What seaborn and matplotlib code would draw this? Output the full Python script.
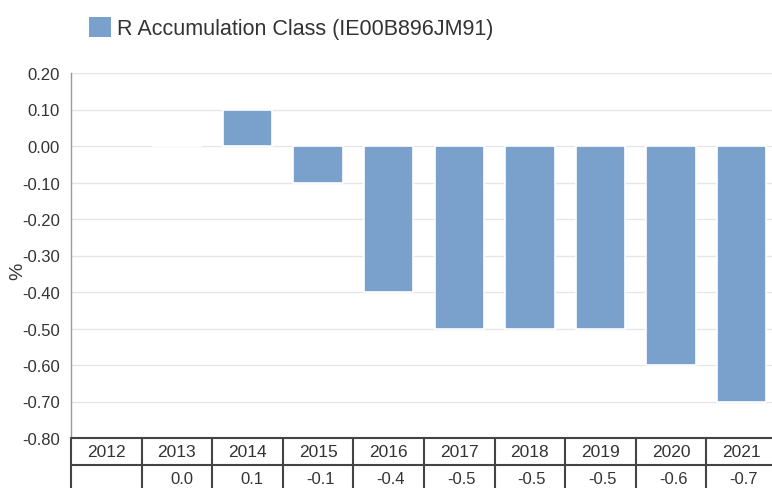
import numpy as np
import pandas as pd
import matplotlib
matplotlib.use("Agg")
import matplotlib.pyplot as plt
import matplotlib.transforms as mtransforms
from matplotlib.patches import Patch
import seaborn as sns

years = ["2012", "2013", "2014", "2015", "2016", "2017", "2018", "2019", "2020", "2021"]
values = [np.nan, 0.0, 0.1, -0.1, -0.4, -0.5, -0.5, -0.5, -0.6, -0.7]
value_labels = ["", "0.0", "0.1", "-0.1", "-0.4", "-0.5", "-0.5", "-0.5", "-0.6", "-0.7"]
series_name = "R Accumulation Class (IE00B896JM91)"
yticks = [0.2, 0.1, 0.0, -0.1, -0.2, -0.3, -0.4, -0.5, -0.6, -0.7, -0.8]

sns.set_theme(style="white")
plt.rcParams["font.family"] = ["Liberation Sans", "DejaVu Sans"]
plt.rcParams["axes.unicode_minus"] = False

bar_color = "#7aa0cc"
text_color = "#333333"

df = pd.DataFrame({"year": years, "value": values})

W, H = 772, 489
fig = plt.figure(figsize=(W / 100, H / 100), dpi=100)
ax = fig.add_axes([71 / W, (H - 439) / H, 706 / W, (439 - 74) / H])

sns.barplot(data=df, x="year", y="value", order=years, color=bar_color,
            saturation=1, width=0.7, edgecolor="white", linewidth=1.2,
            ax=ax, zorder=3)

ax.set_xlim(-0.5, len(years) - 0.5)
ax.set_ylim(-0.8, 0.2)
ax.set_yticks(yticks)
ax.set_yticklabels([f"{t:.2f}" for t in yticks], fontsize=12, color=text_color)
ax.tick_params(axis="y", length=0, pad=8)
ax.set_xticks([])
ax.set_xlabel("")
ax.set_ylabel("%", fontsize=14, color=text_color)
ax.yaxis.set_label_coords((26 - 71) / 706, (439 - 271) / 365)

ax.grid(axis="y", color="#e6e6e6", linewidth=1, zorder=0)
ax.set_axisbelow(True)
for s in ["top", "right", "bottom"]:
    ax.spines[s].set_visible(False)
ax.spines["left"].set_color("#999999")
ax.spines["left"].set_linewidth(1)

# data table under the axis
trans = mtransforms.blended_transform_factory(ax.transData, ax.transAxes)
row_h = 27 / (439 - 74)
line_kw = dict(color="#444444", linewidth=1.5, transform=trans, clip_on=False, zorder=5)
ax.plot([-0.5, len(years) - 0.5], [0, 0], **line_kw)
ax.plot([-0.5, len(years) - 0.5], [-row_h, -row_h], **line_kw)
for i in range(len(years) + 1):
    ax.plot([i - 0.5, i - 0.5], [0, -3 * row_h], **line_kw)
for i, (y, lab) in enumerate(zip(years, value_labels)):
    ax.text(i, -row_h * 0.5, y, ha="center", va="center", fontsize=12.5,
            color=text_color, transform=trans, clip_on=False)
    ax.text(i + 0.5 - 0.27, -row_h * 1.5, lab, ha="right", va="center", fontsize=12,
            color=text_color, transform=trans, clip_on=False)

handle = Patch(facecolor=bar_color, edgecolor="none")
fig.legend([handle], [series_name], loc="upper left",
           bbox_to_anchor=(70 / W, 1 + 1 / H), frameon=False,
           fontsize=15.5, handlelength=1.0, handleheight=1.0, handletextpad=0.3,
           labelcolor=text_color)

fig.savefig("out.png", dpi=100)
